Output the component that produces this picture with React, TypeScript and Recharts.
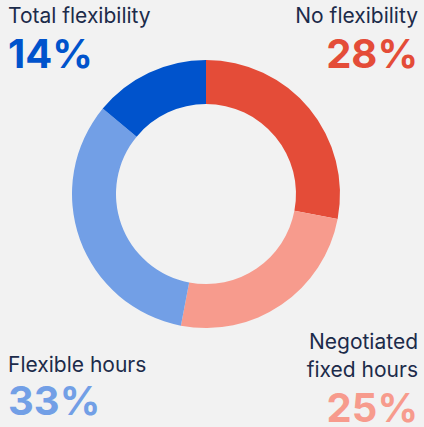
import { PieChart, Pie, Cell } from 'recharts';

// Share of respondents by working-time flexibility
const categories = ['No flexibility', 'Negotiated fixed hours', 'Flexible hours', 'Total flexibility'];
const values = [28, 25, 33, 14];
const colors = ['#E44C38', '#F79B8D', '#729FE6', '#0053CC'];

const data = categories.map((name, i) => ({ name, value: values[i] }));

const navy = '#1C2B4A';
const font = 'Inter, "Liberation Sans", sans-serif';

const labelStyle = { fontSize: 21, color: navy, lineHeight: '28px', fontWeight: 400 };
const pctStyle = { fontSize: 40, fontWeight: 700, lineHeight: '44px', letterSpacing: 0 };

export default function App() {
  return (
    <div style={{ position: 'relative', width: 424, height: 427, background: '#F2F2F2', fontFamily: font, overflow: 'hidden' }}>
      <style>{'body{margin:0}'}</style>
      <PieChart width={424} height={427} margin={{ top: 0, right: 0, bottom: 0, left: 0 }}>
        <Pie
          data={data}
          dataKey="value"
          nameKey="name"
          cx={206}
          cy={194}
          innerRadius={90}
          outerRadius={134}
          startAngle={90}
          endAngle={-270}
          stroke="none"
          isAnimationActive={false}
        >
          {data.map((d, i) => (
            <Cell key={d.name} fill={colors[i]} />
          ))}
        </Pie>
      </PieChart>

      <div style={{ position: 'absolute', left: 8, top: 2 }}>
        <div style={labelStyle}>{categories[3]}</div>
        <div style={{ ...pctStyle, color: colors[3], marginTop: 2 }}>{values[3]}%</div>
      </div>

      <div style={{ position: 'absolute', right: 6, top: 2, textAlign: 'right' }}>
        <div style={labelStyle}>{categories[0]}</div>
        <div style={{ ...pctStyle, color: colors[0], marginTop: 2 }}>{values[0]}%</div>
      </div>

      <div style={{ position: 'absolute', left: 8, top: 351 }}>
        <div style={labelStyle}>{categories[2]}</div>
        <div style={{ ...pctStyle, color: colors[2] }}>{values[2]}%</div>
      </div>

      <div style={{ position: 'absolute', right: 6, top: 328, textAlign: 'right' }}>
        <div style={labelStyle}>Negotiated<br />fixed hours</div>
        <div style={{ ...pctStyle, color: colors[1], marginTop: 2 }}>{values[1]}%</div>
      </div>
    </div>
  );
}
